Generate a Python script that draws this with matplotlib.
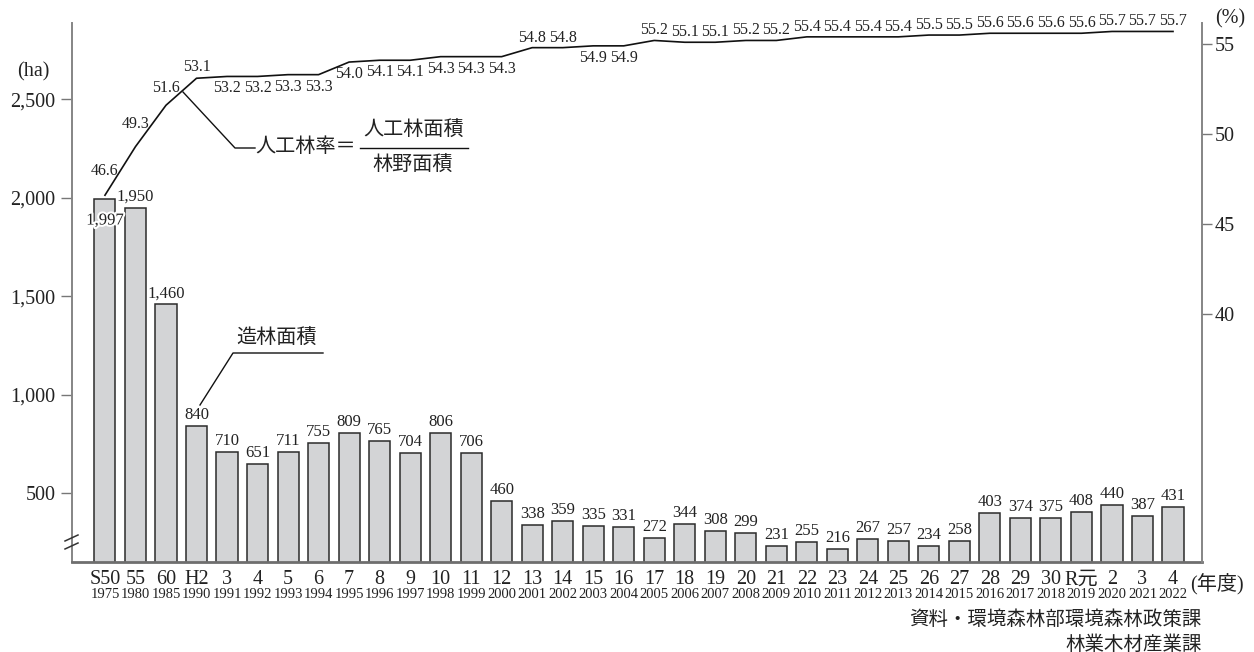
import matplotlib.pyplot as plt
import matplotlib.patheffects as pe
from matplotlib.lines import Line2D

plt.rcParams['font.family'] = ['Liberation Serif', 'Noto Sans CJK JP']

# 年度ラベル（和暦・西暦）
era_labels = ['S50', '55', '60', 'H2', '3', '4', '5', '6', '7', '8', '9', '10',
              '11', '12', '13', '14', '15', '16', '17', '18', '19', '20', '21',
              '22', '23', '24', '25', '26', '27', '28', '29', '30', 'R元', '2',
              '3', '4']
years = [1975, 1980, 1985, 1990, 1991, 1992, 1993, 1994, 1995, 1996, 1997,
         1998, 1999, 2000, 2001, 2002, 2003, 2004, 2005, 2006, 2007, 2008,
         2009, 2010, 2011, 2012, 2013, 2014, 2015, 2016, 2017, 2018, 2019,
         2020, 2021, 2022]

# 造林面積 (ha)
planted_area = [1997, 1950, 1460, 840, 710, 651, 711, 755, 809, 765, 704, 806,
                706, 460, 338, 359, 335, 331, 272, 344, 308, 299, 231, 255,
                216, 267, 257, 234, 258, 403, 374, 375, 408, 440, 387, 431]

# 人工林率 (%)
plantation_rate = [46.6, 49.3, 51.6, 53.1, 53.2, 53.2, 53.3, 53.3, 54.0, 54.1,
                   54.1, 54.3, 54.3, 54.3, 54.8, 54.8, 54.9, 54.9, 55.2, 55.1,
                   55.1, 55.2, 55.2, 55.4, 55.4, 55.4, 55.4, 55.5, 55.5, 55.6,
                   55.6, 55.6, 55.6, 55.7, 55.7, 55.7]

left_ticks = [500, 1000, 1500, 2000, 2500]
right_ticks = [40, 45, 50, 55]

# 折れ線の数値ラベルを線の下に置く年度
below_years = {1991, 1992, 1993, 1994, 1995, 1996, 1997, 1998, 1999, 2000,
               2003, 2004}
# 先頭の数年は線の傾きが大きいので少し上に離す
lift = {1975: 24, 1980: 23, 1985: 17, 1990: 11}

W, H = 1254, 652
TXT = '#222222'
fig = plt.figure(figsize=(W / 100, H / 100), dpi=100)
ax = fig.add_axes([72 / W, (H - 562) / H, (1202 - 72) / W, (562 - 23) / H])
ax2 = ax.twinx()


def fpos(px, py):
    # ピクセル座標 -> figure座標
    return px / W, 1 - py / H


x = list(range(len(years)))

ax.bar(x, planted_area, width=0.69, color='#d3d4d6', edgecolor='#2b2b2b',
       linewidth=1.1, zorder=2)
ax.set_xlim(-1.08, 35.95)
ax.set_ylim(152, 2888)

for i, v in enumerate(planted_area):
    if i == 0:
        ax.annotate(f'{v:,}', (i, v), xytext=(0, -22), textcoords='offset pixels',
                    ha='center', va='center', fontsize=12, color=TXT, zorder=5,
                    path_effects=[pe.withStroke(linewidth=3, foreground='white')])
    else:
        ax.annotate(f'{v:,}', (i, v), xytext=(0, 3), textcoords='offset pixels',
                    ha='center', va='bottom', fontsize=12, color=TXT)

ax.set_yticks(left_ticks)
ax.set_yticklabels([f'{t:,}' for t in left_ticks], fontsize=14.5, color=TXT)
ax.set_xticks(x)
ax.set_xticklabels(era_labels, fontsize=14.5, color=TXT)
ax.tick_params(axis='x', length=0, pad=6)
ax.tick_params(axis='y', direction='out', length=8, width=1, color='#777777', pad=4)

xtrans = ax.get_xaxis_transform()
for i, yr in enumerate(years):
    ax.text(i, -0.060, str(yr), transform=xtrans, ha='center', va='center',
            fontsize=10.5, color=TXT)

for side in ['top', 'right']:
    ax.spines[side].set_visible(False)
ax.spines['left'].set_color('#858585')
ax.spines['left'].set_linewidth(1.4)
ax.spines['bottom'].set_color('#6e6e6e')
ax.spines['bottom'].set_linewidth(2)

# 人工林率の折れ線
ax2.plot(x, plantation_rate, color='#111111', linewidth=1.2, zorder=4)
ax2.set_ylim(26.22, 56.17)
ax2.set_yticks(right_ticks)
ax2.set_yticklabels([str(t) for t in right_ticks], fontsize=14.5, color=TXT)
ax2.tick_params(axis='y', direction='out', length=7, width=1, color='#777777', pad=2)
for side in ['top', 'left', 'bottom']:
    ax2.spines[side].set_visible(False)
ax2.spines['right'].set_color('#858585')
ax2.spines['right'].set_linewidth(1.4)

for i, (yr, r) in enumerate(zip(years, plantation_rate)):
    if yr in below_years:
        dy = -12
    else:
        dy = lift.get(yr, 10)
    ax2.annotate(f'{r:.1f}', (i, r), xytext=(0, dy), textcoords='offset pixels',
                 ha='center', va='center', fontsize=11.5, color=TXT)

# 軸の単位
fig.text(*fpos(33, 72), '(ha)', ha='center', va='center', fontsize=14.5, color=TXT)
fig.text(*fpos(1230, 19), '(%)', ha='center', va='center', fontsize=14.5, color=TXT)
fig.text(*fpos(1217, 584), '(年度)', ha='center', va='center', fontsize=14.5, color=TXT)

# 縦軸の省略記号
for y0 in (541, 549):
    (x1, y1), (x2, y2) = fpos(65, y0), fpos(78, y0 - 6)
    fig.add_artist(Line2D([x1, x2], [y1, y2], transform=fig.transFigure,
                          color='#333333', linewidth=1.1))

# 人工林率の説明
pts = [fpos(183, 92), fpos(235, 148), fpos(255, 148)]
fig.add_artist(Line2D([p[0] for p in pts], [p[1] for p in pts],
                      transform=fig.transFigure, color='#111111', linewidth=1))
fig.text(*fpos(255, 148), '人工林率＝', ha='left', va='center', fontsize=14.5, color=TXT)
fig.text(*fpos(414, 131), '人工林面積', ha='center', va='center', fontsize=14.5, color=TXT)
fig.text(*fpos(413, 166), '林野面積', ha='center', va='center', fontsize=14.5, color=TXT)
(bx1, by), (bx2, _) = fpos(360, 148), fpos(468, 148)
fig.add_artist(Line2D([bx1, bx2], [by, by], transform=fig.transFigure,
                      color='#111111', linewidth=1))

# 造林面積の説明
pts = [fpos(200, 405), fpos(233, 353), fpos(323, 353)]
fig.add_artist(Line2D([p[0] for p in pts], [p[1] for p in pts],
                      transform=fig.transFigure, color='#111111', linewidth=1))
fig.text(*fpos(277, 339), '造林面積', ha='center', va='center', fontsize=14.5, color=TXT)

# 資料
fig.text(*fpos(1202, 620), '資料・環境森林部環境森林政策課', ha='right', va='center',
         fontsize=14, color=TXT)
fig.text(*fpos(1202, 645), '林業木材産業課', ha='right', va='center',
         fontsize=14, color=TXT)

fig.savefig('out.png', dpi=100)
